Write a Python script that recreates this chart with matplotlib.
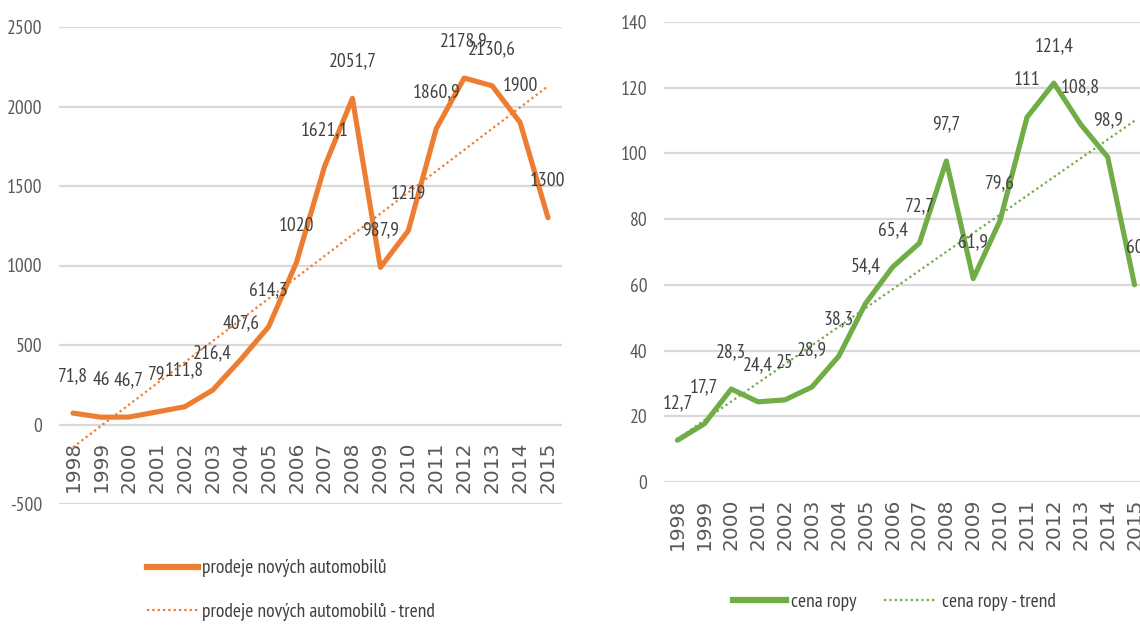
#!/usr/bin/env python3
"""Two Excel-style line charts: new car sales and oil price, each with a linear trend."""

import matplotlib

matplotlib.use("Agg")
import matplotlib.pyplot as plt
from matplotlib.lines import Line2D
import numpy as np

plt.rcParams["font.family"] = ["PT Sans Narrow", "DejaVu Sans"]

# --- data ---
YEARS = [str(y) for y in range(1998, 2016)]
SALES = [71.8, 46, 46.7, 79, 111.8, 216.4, 407.6, 614.3, 1020, 1621.1,
         2051.7, 987.9, 1219, 1860.9, 2178.9, 2130.6, 1900, 1300]
OIL = [12.7, 17.7, 28.3, 24.4, 25, 28.9, 38.3, 54.4, 65.4, 72.7,
       97.7, 61.9, 79.6, 111, 121.4, 108.8, 98.9, 60]
SALES_TICKS = [-500, 0, 500, 1000, 1500, 2000, 2500]
OIL_TICKS = [0, 20, 40, 60, 80, 100, 120, 140]

SALES_LABEL = "prodeje nových automobilů"
OIL_LABEL = "cena ropy"

ORANGE = "#ED7D31"
GREEN = "#70AD47"
GRID = "#D9D9D9"
TXT = "#595959"
LBL = "#404040"
DOTS = (0, (1, 1.4))

W, H = 1140, 626
fig = plt.figure(figsize=(W / 100, H / 100), dpi=100)


def px_axes(x0, x1, y_top, y_bot):
    return fig.add_axes([x0 / W, 1 - y_bot / H, (x1 - x0) / W, (y_bot - y_top) / H])


def fmt(v):
    return f"{v:g}".replace(".", ",")


def draw(ax, values, color, yticks):
    x = np.arange(len(values))
    vals = np.array(values, dtype=float)

    # category labels sit on the zero line, Excel style
    ax.spines["bottom"].set_position(("data", 0))
    for s in ax.spines.values():
        s.set_visible(False)

    ax.plot(x, vals, color=color, lw=3.7, solid_joinstyle="round",
            solid_capstyle="round", zorder=2)
    k, b = np.polyfit(x, vals, 1)
    ax.plot(x, k * x + b, color=color, lw=1.6, ls=DOTS, zorder=3)
    for xi, v in zip(x, vals):
        ax.annotate(fmt(v), (xi, v), xytext=(0, 26.5), textcoords="offset points",
                    ha="center", va="center", fontsize=14, color=LBL,
                    annotation_clip=False, zorder=4)

    ax.set_xlim(-0.5, len(values) - 0.5)
    ax.set_ylim(yticks[0], yticks[-1])
    ax.set_yticks(yticks)
    ax.set_yticklabels([str(t) for t in yticks])
    ax.set_xticks(x)
    ax.set_xticklabels(YEARS)
    ax.tick_params(axis="x", length=0, pad=12, labelrotation=90, labelsize=14.5,
                   labelcolor=TXT, labelfontfamily="DejaVu Sans")
    ax.tick_params(axis="y", length=0, pad=12, labelsize=14, labelcolor=TXT)
    ax.grid(axis="y", color=GRID, lw=1.6)
    ax.set_axisbelow(True)
    ax.patch.set_alpha(0)


ax1 = px_axes(59, 562, 27, 504)
draw(ax1, SALES, ORANGE, SALES_TICKS)

ax2 = px_axes(664, 1148, 22, 482)
draw(ax2, OIL, GREEN, OIL_TICKS)

# legends
h_sales = [Line2D([], [], color=ORANGE, lw=4.5),
           Line2D([], [], color=ORANGE, lw=1.6, ls=DOTS)]
fig.legend(h_sales, [SALES_LABEL, SALES_LABEL + " - trend"], loc="center left",
           bbox_to_anchor=(147 / W, 1 - 590 / H), frameon=False, fontsize=14,
           handlelength=2.6, handletextpad=0.25, labelspacing=1.3,
           borderpad=0, borderaxespad=0, labelcolor=LBL)

h_oil = [Line2D([], [], color=GREEN, lw=4.5),
         Line2D([], [], color=GREEN, lw=1.6, ls=DOTS)]
fig.legend(h_oil, [OIL_LABEL, OIL_LABEL + " - trend"], loc="center left",
           bbox_to_anchor=(733 / W, 1 - 602 / H), frameon=False, fontsize=14,
           ncol=2, handlelength=2.7, handletextpad=0.3, columnspacing=1.4,
           borderpad=0, borderaxespad=0, labelcolor=LBL)

fig.savefig("out.png", dpi=100)
